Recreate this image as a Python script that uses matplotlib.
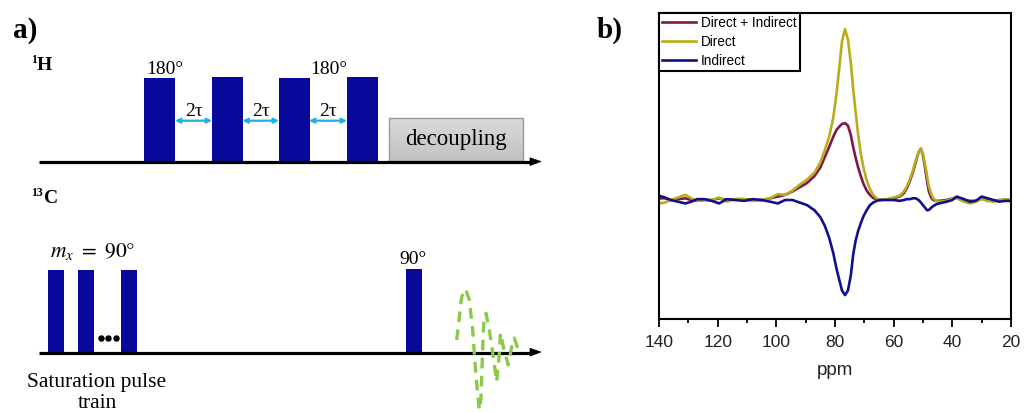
import matplotlib
matplotlib.use("Agg")
import matplotlib.pyplot as plt
from matplotlib.patches import Rectangle, Polygon
from matplotlib.colors import LinearSegmentedColormap
import numpy as np

plt.rcParams['mathtext.fontset'] = 'stix'

# ---------------- spectrum data ----------------
ppm = [140, 138, 136, 133.5, 131, 129, 127, 124.5, 122, 119.5, 117, 114, 111, 108, 105, 102,
       99.5, 97, 94.5, 92, 89.5, 87, 85, 83.5, 82, 80.6, 79.5, 78.5, 77.6, 76.6, 75.6, 74.6,
       73.8, 73, 72.1, 71.2, 70.3, 69.2, 68.1, 67, 65.8, 64.5, 62, 60, 58, 56.5, 55.5, 54.5,
       53.5, 52.5, 51.5, 50.7, 50, 49.3, 48.6, 48, 47.2, 46.5, 45.5, 44.5, 42, 40, 38.5, 36,
       34, 32, 30, 28, 26, 24, 22, 20]

direct = [-0.02, -0.015, 0.0, 0.015, 0.03, 0.01, -0.005, 0.0, 0.0, 0.015, -0.01, 0.005, 0.005, -0.005, 0.0, 0.01,
          0.035, 0.03, 0.055, 0.09, 0.12, 0.16, 0.22, 0.29, 0.37, 0.48, 0.62, 0.78, 0.93, 1.0, 0.94, 0.8,
          0.65, 0.52, 0.38, 0.27, 0.19, 0.115, 0.065, 0.03, 0.01, 0.0, 0.005, 0.015, 0.025, 0.05, 0.08, 0.12,
          0.17, 0.23, 0.28, 0.30, 0.27, 0.21, 0.14, 0.08, 0.035, 0.01, -0.005, -0.01, -0.005, 0.01, 0.01, -0.01,
          -0.02, -0.01, 0.005, -0.005, -0.01, 0.0, 0.005, 0.0]

direct_indirect = [0.01, 0.01, 0.0, 0.005, 0.01, 0.0, -0.005, 0.0, 0.0, 0.01, 0.0, 0.005, 0.005, 0.0, 0.0, 0.01,
                   0.02, 0.03, 0.05, 0.075, 0.1, 0.14, 0.19, 0.25, 0.31, 0.37, 0.41, 0.43, 0.445, 0.45, 0.435, 0.38,
                   0.31, 0.25, 0.19, 0.14, 0.095, 0.055, 0.03, 0.012, 0.005, 0.0, 0.005, 0.01, 0.02, 0.04, 0.07, 0.11,
                   0.16, 0.22, 0.28, 0.30, 0.26, 0.19, 0.11, 0.05, 0.015, 0.0, -0.005, -0.005, 0.0, 0.01, 0.015, 0.0,
                   -0.005, -0.005, 0.01, 0.0, -0.005, 0.0, 0.0, 0.0]

indirect = [0.025, 0.015, 0.0, -0.01, -0.02, -0.01, 0.005, 0.005, -0.005, -0.02, 0.005, 0.0, -0.005, 0.005, 0.0, -0.01,
            -0.02, 0.0, 0.0, -0.015, -0.03, -0.06, -0.1, -0.15, -0.22, -0.31, -0.4, -0.47, -0.53, -0.556, -0.53, -0.44,
            -0.32, -0.24, -0.18, -0.135, -0.095, -0.06, -0.03, -0.015, -0.005, 0.0, 0.0, 0.0, -0.005, 0.0, 0.005, 0.005,
            0.01, 0.01, 0.0, -0.015, -0.03, -0.045, -0.06, -0.058, -0.045, -0.035, -0.025, -0.02, -0.01, 0.0, 0.02, 0.005,
            -0.01, -0.005, 0.02, 0.01, 0.0, -0.01, -0.005, -0.005]

series_labels = ['Direct + Indirect', 'Direct', 'Indirect']
x_ticks = [140, 120, 100, 80, 60, 40, 20]
x_minor = [130, 110, 90, 70, 50, 30]

# ---------------- pulse-sequence diagram (pixel layout) ----------------
h_pulse_left = [144, 212, 279, 347]
h_pulse_top = [77.5, 76.5, 77.5, 77]
c_sat_left = [48, 78, 121]
c_read_left = [406]
h_labels = [('180°', 165, 69), ('180°', 329, 69)]
tau_gaps = [(175, 212), (242.5, 279), (309, 347)]
fid_x = [456.7, 461.7, 465.7, 469.3, 472.7, 475, 477.3, 479.3, 481, 482.7, 484, 486, 489.3, 493.3,
         496.7, 499, 500.5, 504, 508.3, 511.7, 514.3, 519.3]
fid_y = [340, 296.7, 289, 300, 330, 363, 390, 410, 398, 347, 320, 313.3, 330, 356.7,
         381.7, 356.7, 333, 350, 365, 346.7, 338, 353]

pulse_col = '#08089a'
cyan = '#1fb0ea'
col_di = '#7f164c'
col_d = '#b8ad1b'
col_i = '#10108e'

fig = plt.figure(figsize=(10.24, 4.12), dpi=100)
ax0 = fig.add_axes([0, 0, 1, 1])
ax0.axis('off')

serif = 'Liberation Serif'

# panel labels
ax0.text(25, 30, 'a)', fontsize=21, fontweight='bold', family=serif, ha='center', va='center')
ax0.text(610, 30, 'b)', fontsize=21, fontweight='bold', family=serif, ha='center', va='center')

# channel labels
ax0.text(31, 60, '1', fontsize=8.5, fontweight='bold', family=serif, ha='left', va='center')
ax0.text(37, 65, 'H', fontsize=14, fontweight='bold', family=serif, ha='left', va='center')
ax0.text(31, 193, '13', fontsize=8.5, fontweight='bold', family=serif, ha='left', va='center')
ax0.text(44, 198, 'C', fontsize=14, fontweight='bold', family=serif, ha='left', va='center')

h_base = 162
c_base = 352.5
# H pulses
for xl, top in zip(h_pulse_left, h_pulse_top):
    ax0.add_patch(Rectangle((xl, top), 31, h_base - top, facecolor=pulse_col, edgecolor='none', zorder=2))
for txt, xc, yc in h_labels:
    ax0.text(xc, yc, txt, fontsize=14, family=serif, ha='center', va='center')
for a, b in tau_gaps:
    ax0.annotate('', xy=(b, 120.7), xytext=(a, 120.7),
                 arrowprops=dict(arrowstyle='<|-|>', color=cyan, lw=1.6, mutation_scale=7,
                                 shrinkA=0, shrinkB=0), zorder=3)
    ax0.text((a + b) / 2, 111, '2τ', fontsize=14, family=serif, ha='center', va='center')

# decoupling box with gradient
cmap = LinearSegmentedColormap.from_list('g', ['#dadada', '#c2c2c2'])
grad = np.linspace(0, 1, 50).reshape(-1, 1)
ax0.imshow(grad, extent=(389.3, 522.7, 161, 118.3), origin='upper', cmap=cmap, aspect='auto', zorder=1)
ax0.add_patch(Rectangle((389.3, 118.3), 133.4, 42.7, facecolor='none', edgecolor='#9a9a9a', lw=1.0, zorder=2))
ax0.text(456, 139, 'decoupling', fontsize=16.5, family=serif, ha='center', va='center', zorder=3)

# C pulses
for xl in c_sat_left:
    ax0.add_patch(Rectangle((xl, 270), 15.5, c_base - 270, facecolor=pulse_col, edgecolor='none', zorder=2))
for xl in c_read_left:
    ax0.add_patch(Rectangle((xl, 269), 16, c_base - 269, facecolor=pulse_col, edgecolor='none', zorder=2))
ax0.plot([100.5, 108, 115.5], [338, 338, 338], 'o', color='k', ms=3.6, zorder=3)
ax0.text(93, 251, r'$m_x\ =\ 90°$', fontsize=15.5, ha='center', va='center')
ax0.text(413, 259, '90°', fontsize=14, family=serif, ha='center', va='center')
ax0.text(97, 382, 'Saturation pulse', fontsize=15.5, family=serif, ha='center', va='center')
ax0.text(97, 404, 'train', fontsize=15.5, family=serif, ha='center', va='center')

# time axes with arrows
for yb in (h_base, c_base):
    ax0.plot([39, 532], [yb, yb], color='k', lw=2.3, solid_capstyle='butt', zorder=4)
    ax0.add_patch(Polygon([(530, yb - 4.2), (541, yb - 0.5), (530, yb + 3.6)], closed=True,
                          facecolor='k', edgecolor='k', lw=0.5, zorder=4))

# FID
ax0.plot(fid_x, fid_y, color='#8cc94a', lw=2.4, ls=(0, (3.2, 2.2)), zorder=5)

ax0.set_xlim(0, 1024)
ax0.set_ylim(412, 0)

# ---------------- spectrum ----------------
ax = fig.add_axes([659 / 1024, 1 - 319 / 412, (1011 - 659) / 1024, (319 - 13) / 412])
ax.plot(ppm, direct_indirect, color=col_di, lw=1.9, label=series_labels[0], solid_joinstyle='round')
ax.plot(ppm, direct, color=col_d, lw=1.9, label=series_labels[1], solid_joinstyle='round')
ax.plot(ppm, indirect, color=col_i, lw=1.9, label=series_labels[2], solid_joinstyle='round')
ax.set_xlim(140, 20)
ax.set_ylim(-0.696, 1.094)
ax.set_yticks([])
ax.set_xticks(x_ticks)
ax.set_xticks(x_minor, minor=True)
ax.set_xticklabels([str(t) for t in x_ticks], family='Liberation Sans', fontsize=12.5, color='#222222')
ax.tick_params(axis='x', which='major', direction='out', length=5.5, width=1.3, pad=6)
ax.tick_params(axis='x', which='minor', direction='out', length=3, width=1.3)
for sp in ax.spines.values():
    sp.set_linewidth(1.5)
ax.set_xlabel('ppm', family='Liberation Sans', fontsize=13.5, color='#222222', labelpad=9)
leg = ax.legend(loc='upper left', bbox_to_anchor=(0, 1), borderaxespad=0, fancybox=False,
                frameon=True, edgecolor='k', framealpha=1,
                prop={'family': 'Liberation Sans', 'size': 9.8},
                handlelength=2.5, handletextpad=0.4, labelspacing=0.38, borderpad=0.2)
leg.get_frame().set_linewidth(1.5)

fig.savefig('out.png', dpi=100, facecolor='white')
